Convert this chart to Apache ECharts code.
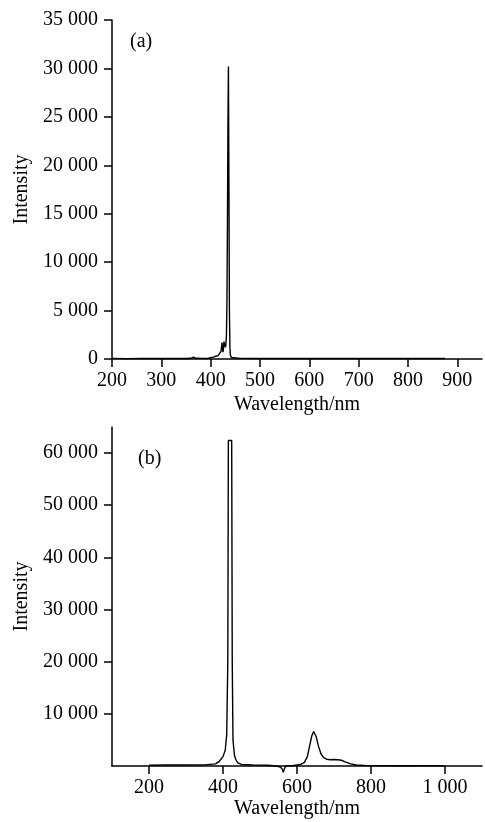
<!DOCTYPE html>
<html>
<head>
    <meta charset="utf-8">
    <title>spectra</title>
    <script src="https://cdn.jsdelivr.net/npm/echarts@6/dist/echarts.min.js"></script>
    <style>
        html, body {margin: 0; padding: 0; background: #fff;}
        #chart {width: 485px; height: 822px;}
    </style>
</head>
<body>
<div id="chart"></div>
<script>
    // (a) 光谱数据
    var wlA = [200, 230, 260, 290, 320, 350, 360, 365, 370, 385, 395, 405, 410, 415, 419, 421, 423, 424, 425, 426, 427,
        428, 429, 430, 431, 432, 433, 434, 435, 436, 437, 438, 439, 440, 442, 446, 460, 520, 600, 700, 800, 875];
    var intA = [60, 40, 60, 50, 60, 50, 70, 200, 70, 60, 80, 200, 280, 350, 550, 800, 1700, 1100, 700, 1100, 1800,
        1900, 1700, 1200, 1600, 2500, 6000, 14000, 24000, 30200, 18000, 5000, 1200, 400, 150, 80, 60, 50, 60, 50, 60, 50];

    // (b) 光谱数据
    var wlB = [200, 250, 300, 350, 380, 390, 400, 406, 410, 413, 414.5, 423.5, 425, 427, 431, 435, 440, 450, 480, 520,
        545, 555, 560, 563, 566, 570, 590, 610, 620, 628, 634, 640, 645, 648, 652, 658, 665, 672, 680, 690, 700, 710,
        720, 730, 745, 760, 790, 850, 920, 1000];
    var intB = [150, 180, 200, 220, 400, 900, 1800, 3000, 6000, 20000, 62400, 62400, 20000, 5000, 2000, 1200, 600, 300, 200, 150,
        0, -200, -600, -1200, -500, 0, 100, 300, 700, 1800, 3800, 5800, 6600, 6500, 5600, 3800, 2300, 1600, 1300, 1200, 1250, 1200,
        1100, 800, 400, 200, 80, 50, 40, 30];

    var ticksA = [200, 300, 400, 500, 600, 700, 800, 900];
    var ticksB = [200, 400, 600, 800, 1000];
    var yTicksA = [0, 5000, 10000, 15000, 20000, 25000, 30000, 35000];
    var yTicksB = [10000, 20000, 30000, 40000, 50000, 60000];

    var font = 'Liberation Serif';
    var black = '#000';

    function fmt(v) {
        return String(v).replace(/\B(?=(\d{3})+(?!\d))/g, ' ');
    }

    function pairs(xs, ys) {
        return xs.map(function (x, i) {
            return [x, ys[i]];
        });
    }

    function axisCommon() {
        return {
            axisLine: {lineStyle: {color: black, width: 1.5}},
            axisTick: {show: true, length: 8, inside: false, lineStyle: {color: black, width: 1.5}},
            splitLine: {show: false},
            axisLabel: {color: black, fontFamily: font, fontSize: 20, formatter: fmt},
            nameTextStyle: {color: black, fontFamily: font, fontSize: 20}
        };
    }

    function xAxis(idx, min, max, ticks, gap) {
        var a = axisCommon();
        a.type = 'value';
        a.gridIndex = idx;
        a.min = min;
        a.max = max;
        a.name = 'Wavelength/nm';
        a.nameLocation = 'middle';
        a.nameGap = gap;
        a.axisLabel.margin = 12;
        a.axisLabel.customValues = ticks;
        a.axisTick.customValues = ticks;
        return a;
    }

    function yAxis(idx, max, ticks) {
        var a = axisCommon();
        a.type = 'value';
        a.gridIndex = idx;
        a.min = 0;
        a.max = max;
        a.name = 'Intensity';
        a.nameLocation = 'middle';
        a.nameGap = 78;
        a.axisLabel.margin = 14;
        a.axisLabel.customValues = ticks;
        a.axisTick.customValues = ticks;
        return a;
    }

    var chart = echarts.init(document.getElementById('chart'));
    chart.setOption({
        backgroundColor: '#fff',
        animation: false,
        title: [
            {text: '(a)', left: 125, top: 27, textStyle: {color: black, fontFamily: font, fontSize: 20, fontWeight: 'normal'}},
            {text: '(b)', left: 133, top: 444, textStyle: {color: black, fontFamily: font, fontSize: 20, fontWeight: 'normal'}}
        ],
        grid: [
            {left: 112, top: 20, width: 370, height: 339},
            {left: 112, top: 427, width: 370, height: 339}
        ],
        xAxis: [
            xAxis(0, 200, 950, ticksA, 36),
            xAxis(1, 100, 1100, ticksB, 29)
        ],
        yAxis: [
            yAxis(0, 35000, yTicksA),
            yAxis(1, 65000, yTicksB)
        ],
        series: [
            {
                type: 'line', xAxisIndex: 0, yAxisIndex: 0, data: pairs(wlA, intA),
                symbol: 'none', clip: false, lineStyle: {color: black, width: 1.4}
            },
            {
                type: 'line', xAxisIndex: 1, yAxisIndex: 1, data: pairs(wlB, intB),
                symbol: 'none', clip: false, lineStyle: {color: black, width: 1.4}
            }
        ]
    });
</script>
</body>
</html>
